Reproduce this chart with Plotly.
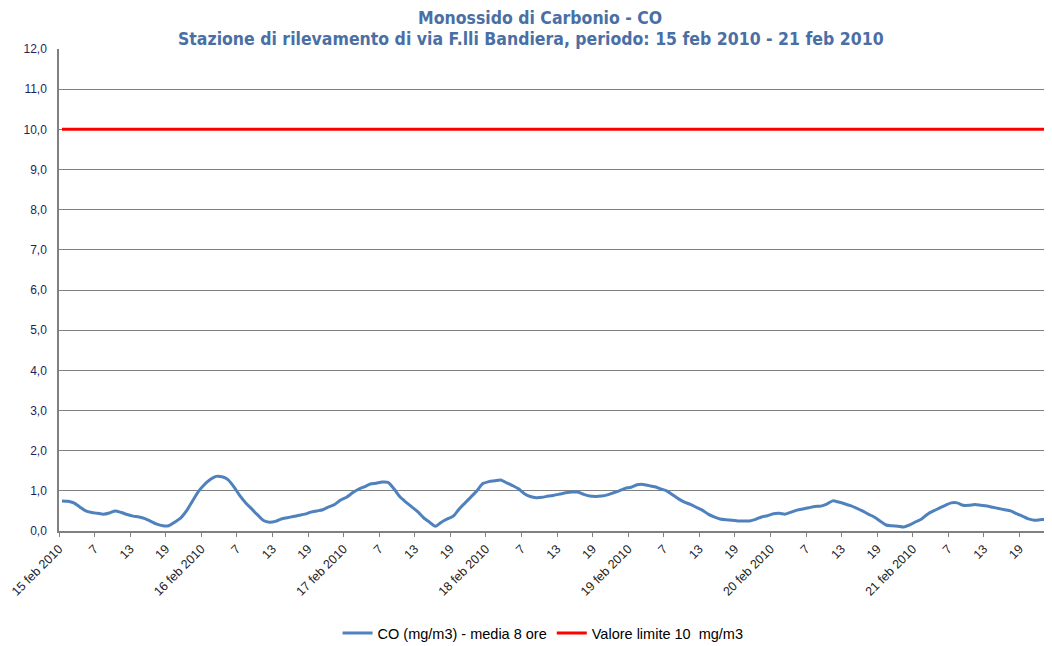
import plotly.graph_objects as go

# Hourly CO values (mg/m3, 8-hour mean), 15 feb 2010 01:00 -> 21 feb 2010 24:00
day1 = [0.75, 0.74, 0.70, 0.60, 0.50, 0.46, 0.44, 0.42, 0.45, 0.50, 0.46, 0.41,
        0.37, 0.35, 0.31, 0.24, 0.17, 0.13, 0.13, 0.22, 0.32, 0.50, 0.74, 0.98]
day2 = [1.15, 1.28, 1.36, 1.35, 1.28, 1.10, 0.88, 0.70, 0.55, 0.40, 0.26, 0.22,
        0.24, 0.30, 0.33, 0.36, 0.39, 0.42, 0.47, 0.50, 0.53, 0.60, 0.66, 0.77]
day3 = [0.84, 0.95, 1.04, 1.10, 1.17, 1.19, 1.22, 1.21, 1.05, 0.85, 0.72, 0.60,
        0.48, 0.33, 0.22, 0.12, 0.22, 0.30, 0.37, 0.55, 0.70, 0.85, 1.00, 1.18]
day4 = [1.23, 1.25, 1.27, 1.20, 1.13, 1.05, 0.93, 0.86, 0.83, 0.84, 0.87, 0.89,
        0.92, 0.95, 0.97, 0.97, 0.91, 0.87, 0.86, 0.87, 0.90, 0.95, 1.00, 1.06]
day5 = [1.09, 1.15, 1.16, 1.13, 1.10, 1.05, 1.00, 0.90, 0.80, 0.72, 0.66, 0.59,
        0.52, 0.42, 0.35, 0.30, 0.28, 0.27, 0.25, 0.25, 0.25, 0.29, 0.35, 0.38]
day6 = [0.43, 0.44, 0.42, 0.47, 0.52, 0.55, 0.58, 0.61, 0.62, 0.67, 0.75, 0.72,
        0.68, 0.63, 0.57, 0.50, 0.42, 0.35, 0.25, 0.15, 0.13, 0.12, 0.10, 0.15]
day7 = [0.23, 0.30, 0.42, 0.50, 0.57, 0.64, 0.70, 0.70, 0.64, 0.64, 0.66, 0.64,
        0.62, 0.59, 0.56, 0.53, 0.50, 0.43, 0.37, 0.30, 0.27, 0.28, 0.29, 0.28]
co_values = day1 + day2 + day3 + day4 + day5 + day6 + day7

limit_value = 10.0
day_labels = ["15 feb 2010", "16 feb 2010", "17 feb 2010", "18 feb 2010",
              "19 feb 2010", "20 feb 2010", "21 feb 2010"]
hour_labels = ["7", "13", "19"]
y_ticks = list(range(0, 13))
title_line1 = "Monossido di Carbonio - CO"
title_line2 = "Stazione di rilevamento di via F.lli Bandiera, periodo: 15 feb 2010 - 21 feb 2010"

n = len(co_values)
x_pos = [i + 0.5 for i in range(n)]

tickvals, ticktext = [], []
for d, dl in enumerate(day_labels):
    tickvals.append(d * 24)
    ticktext.append(dl)
    for k, hl in enumerate(hour_labels):
        tickvals.append(d * 24 + (k + 1) * 6)
        ticktext.append(hl)

fig = go.Figure()
fig.add_trace(go.Scatter(
    x=x_pos, y=co_values, mode="lines",
    name="CO (mg/m3) - media 8 ore",
    line=dict(color="#4F81BD", width=3, shape="spline", smoothing=0.7),
))
fig.add_trace(go.Scatter(
    x=x_pos, y=[limit_value] * n, mode="lines",
    name="Valore limite 10  mg/m3",
    line=dict(color="#FF0000", width=3),
))

title_font = dict(family="DejaVu Sans Condensed", size=17.5, color="#4A6FA5", weight="bold")
fig.add_annotation(text=title_line1, xref="paper", yref="paper", x=0.483, y=1.064,
                   xanchor="center", yanchor="middle", showarrow=False, font=title_font)
fig.add_annotation(text=title_line2, xref="paper", yref="paper", x=0.474, y=1.021,
                   xanchor="center", yanchor="middle", showarrow=False, font=title_font)

fig.update_layout(
    width=1052, height=646,
    paper_bgcolor="white", plot_bgcolor="white",
    margin=dict(l=51, r=5, t=41, b=120),
    separators=",.",
    showlegend=True,
    legend=dict(
        orientation="h", x=0.486, xanchor="center", y=-0.212, yanchor="middle",
        font=dict(family="Liberation Sans", size=14.5, color="#000000"),
        itemwidth=30,
    ),
    xaxis=dict(
        range=[0, 168], automargin=False, ticklabeloverflow="allow",
        tickmode="array", tickvals=tickvals, ticktext=ticktext,
        tickangle=-45, ticks="outside", ticklen=4, tickcolor="#808080",
        showline=True, linecolor="#808080", linewidth=1.5,
        showgrid=False, zeroline=False,
        tickfont=dict(family="Liberation Sans", size=12.5, color="#222222"),
    ),
    yaxis=dict(
        range=[0, 12], automargin=False,
        tickmode="array", tickvals=y_ticks, tickformat=".1f",
        showline=True, linecolor="#808080", linewidth=1.5,
        showgrid=True, gridcolor="#808080", gridwidth=1.2,
        zeroline=False, ticks="", ticklabelstandoff=8,
        tickfont=dict(family="Liberation Sans", size=12, color="#1F1F5A"),
    ),
)

fig.write_html("out.html")
